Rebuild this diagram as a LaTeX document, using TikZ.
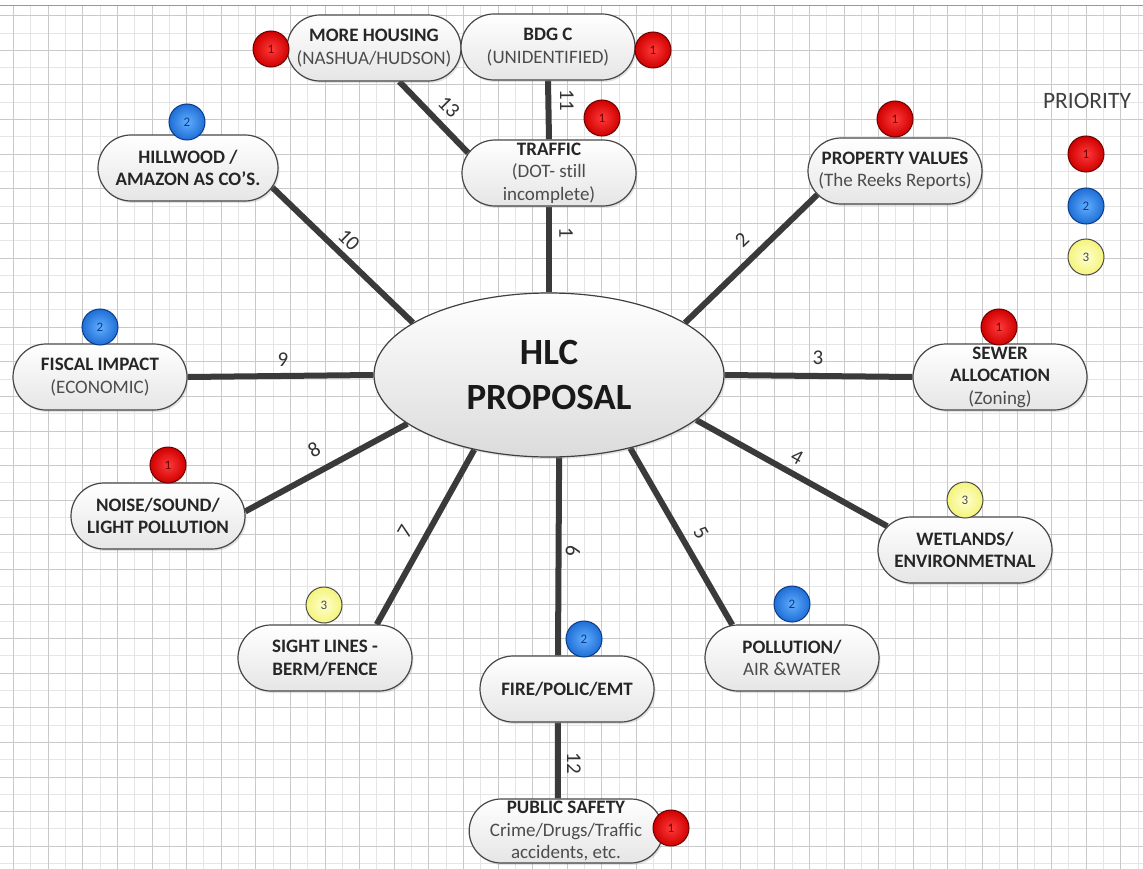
\documentclass[tikz,border=0pt]{standalone}
\usepackage{fontspec}
\setmainfont{Carlito}[Ligatures={TeX,NoCommon}]
\usetikzlibrary{shapes.geometric,shapes.misc,shadows}
\pgfdeclarelayer{bg}
\pgfsetlayers{bg,main}
\definecolor{connc}{HTML}{3A3A3A}
\definecolor{redin}{HTML}{FF3A3A}
\definecolor{redout}{HTML}{D00000}
\definecolor{redd}{HTML}{6A0000}
\definecolor{bluein}{HTML}{62AEFF}
\definecolor{blueout}{HTML}{1E6ED6}
\definecolor{blued}{HTML}{0A3A88}
\definecolor{yelin}{HTML}{FFFFD0}
\definecolor{yelout}{HTML}{F4F47C}
\definecolor{yeld}{HTML}{4A4A4A}
\newcommand\subline[1]{\textcolor{black!70}{#1}}
\begin{document}
\begin{tikzpicture}[x=1pt,y=-1pt,
  pill/.style={rounded rectangle, draw=black!72, line width=1.2pt,
    minimum width=174pt, minimum height=66pt, inner sep=0pt, align=center,
    top color=white, bottom color=black!10, text=black!85,
    font=\fontsize{19}{22.5}\selectfont,
    drop shadow={opacity=0.22,shadow xshift=1.5pt,shadow yshift=-2pt}},
  conn/.style={draw=connc, line width=6pt},
  num/.style={font=\fontsize{21}{21}\selectfont, text=black!80, inner sep=0pt},
  badge/.style={circle, minimum size=36pt, inner sep=0pt, line width=1pt,
    font=\fontsize{13}{13}\selectfont},
  bred/.style={badge, draw=redd, inner color=redin, outer color=redout, text=redd},
  bblue/.style={badge, draw=blued, inner color=bluein, outer color=blueout, text=blued},
  byel/.style={badge, draw=yeld, inner color=yelin, outer color=yelout, text=yeld},
  gridminor/.style={draw=black!10, line width=0.8pt},
  gridmajor/.style={draw=black!21, line width=0.8pt}]
\useasboundingbox (0,0) rectangle (1143,869);

% central ellipse
\node[ellipse, minimum width=350pt, minimum height=164pt, draw=black!75, line width=1.2pt,
  top color=white, bottom color=black!14, inner sep=0pt, align=center,
  font=\fontsize{37}{45}\selectfont\bfseries, text=black!90,
  drop shadow={opacity=0.22,shadow xshift=1.5pt,shadow yshift=-2pt}] (hlc) at (549,375) {HLC\\PROPOSAL};

% outer nodes
\node[pill] (housing) at (374,48) {\textbf{MORE HOUSING}\\\subline{(NASHUA/HUDSON)}};
\node[pill] (bdg) at (548,47) {\textbf{BDG C}\\\subline{(UNIDENTIFIED)}};
\node[pill] (traffic) at (549,173) {\textbf{TRAFFIC}\\\subline{(DOT- still}\\\subline{incomplete)}};
\node[pill, minimum width=180pt] (hill) at (188,168) {\textbf{HILLWOOD /}\\\textbf{AMAZON AS CO'S.}};
\node[pill] (prop) at (895,171) {\textbf{PROPERTY VALUES}\\\subline{(The Reeks Reports)}};
\node[pill] (sewer) at (1000,377) {\textbf{SEWER}\\\textbf{ALLOCATION}\\\subline{(Zoning)}};
\node[pill] (fiscal) at (100,377) {\textbf{FISCAL IMPACT}\\\subline{(ECONOMIC)}};
\node[pill] (noise) at (158,516) {\textbf{NOISE/SOUND/}\\\textbf{LIGHT POLLUTION}};
\node[pill] (sight) at (325,658) {\textbf{SIGHT LINES -}\\\textbf{BERM/FENCE}};
\node[pill] (fire) at (567,689) {\textbf{FIRE/POLIC/EMT}};
\node[pill, minimum height=64pt] (ps) at (566,831) {\textbf{PUBLIC SAFETY}\\\subline{Crime/Drugs/Traffic}\\\subline{accidents, etc.}};
\node[pill] (wet) at (965,550) {\textbf{WETLANDS/}\\\textbf{ENVIRONMETNAL}};
\node[pill] (poll) at (792,658) {\textbf{POLLUTION/}\\\subline{AIR \&WATER}};

% badges
\node[bred] (bhousing) at (271,49) {1};
\node[bred] (bbdg) at (653,50) {1};
\node[bred] (btraffic) at (602,118) {1};
\node[bblue] (bhill) at (187,122) {2};
\node[bred] (bprop) at (895,119) {1};
\node[bred] (bsewer) at (999,327) {1};
\node[bblue] (bfiscal) at (100,327) {2};
\node[bred] (bnoise) at (168,465) {1};
\node[byel] (bsight) at (324,605) {3};
\node[bblue] (bfire) at (584,639) {2};
\node[bred] (bps) at (671,828) {1};
\node[byel] (bwet) at (965,500) {3};
\node[bblue] (bpoll) at (792,604) {2};

% legend
\node[font=\fontsize{23.5}{23.5}\selectfont, text=black!75, inner sep=0pt] (prio) at (1087,101) {PRIORITY};
\node[bred] (leg1) at (1086,154) {1};
\node[bblue] (leg2) at (1086,206) {2};
\node[byel] (leg3) at (1086,257) {3};

% connector labels
\node[num, rotate=-90] (l1) at (566,233) {1};
\node[num, rotate=44] (l2) at (742,240) {2};
\node[num] (l3) at (818,358) {3};
\node[num, rotate=-29] (l4) at (797,457) {4};
\node[num, rotate=-60] (l5) at (701,533) {5};
\node[num, rotate=-90] (l6) at (573,551) {6};
\node[num, rotate=60] (l7) at (405,532) {7};
\node[num, rotate=29] (l8) at (314,450) {8};
\node[num] (l9) at (283,360) {9};
\node[num, rotate=-45] (l10) at (349,240) {10};
\node[num, rotate=-90] (l11) at (567,100) {11};
\node[num, rotate=-90] (l12) at (574,763) {12};
\node[num, rotate=-45] (l13) at (449,107) {13};

\begin{pgfonlayer}{bg}
  \fill[white] (0,0) rectangle (1143,869);
  \foreach \i in {0,...,65} \draw[gridminor] ({13.5+17.3*\i},6) -- ({13.5+17.3*\i},869);
  \foreach \j in {0,...,49} \draw[gridminor] (0,{15.7+17.3*\j}) -- (1143,{15.7+17.3*\j});
  \foreach \i in {0,2,...,64} \draw[gridmajor] ({13.5+17.3*\i},6) -- ({13.5+17.3*\i},869);
  \foreach \j in {0,2,...,48} \draw[gridmajor] (0,{15.7+17.3*\j}) -- (1143,{15.7+17.3*\j});
  \draw[black!40, line width=1pt] (0,6) -- (1143,6);
  % connectors
  \draw[conn] (hlc.90) -- (traffic.south);
  \draw[conn] (hlc.21) -- (prop.197);
  \draw[conn] (hlc.0) -- (sewer.180);
  \draw[conn] (hlc.-17) -- (wet.163);
  \draw[conn] (hlc.-42) -- (poll.151);
  \draw[conn] (hlc.-83.7) -- (fire.105);
  \draw[conn] (hlc.-135) -- (sight.33);
  \draw[conn] (hlc.-161.6) -- (noise.3);
  \draw[conn] (hlc.180) -- (fiscal.0);
  \draw[conn] (hlc.159.4) -- (hill.-13.6);
  \draw[conn] (traffic.north) -- (bdg.south);
  \draw[conn] (fire.-105) -- (ps.104);
  \draw[conn] (traffic.166) -- (housing.-53);
\end{pgfonlayer}
\end{tikzpicture}
\end{document}
